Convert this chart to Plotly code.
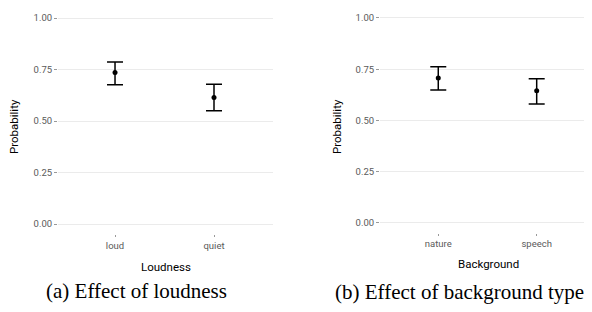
import plotly.graph_objects as go

# ---- data ----
loud_cats = ["loud", "quiet"]
loud_mean = [0.735, 0.614]
loud_upper = [0.787, 0.679]
loud_lower = [0.676, 0.550]

bg_cats = ["nature", "speech"]
bg_mean = [0.707, 0.645]
bg_upper = [0.762, 0.703]
bg_lower = [0.648, 0.580]

y_tickvals = [0, 0.25, 0.5, 0.75, 1.0]
y_ticktext = ["0.00", "0.25", "0.50", "0.75", "1.00"]

W, H = 592, 312
OFF = 8  # page body margin
FW, FH = W - OFF, H - OFF

def px(x):
    return (x - OFF) / FW

def py(y):
    return (H - y) / FH

fig = go.Figure()

def add_panel(cats, mean, upper, lower, xa, ya):
    fig.add_trace(go.Scatter(
        x=cats, y=mean, mode="markers",
        marker=dict(color="black", size=5),
        error_y=dict(type="data", symmetric=False,
                     array=[u - m for u, m in zip(upper, mean)],
                     arrayminus=[m - l for m, l in zip(mean, lower)],
                     color="black", thickness=1.5, width=8),
        xaxis=xa, yaxis=ya, showlegend=False, hoverinfo="skip"))

add_panel(loud_cats, loud_mean, loud_upper, loud_lower, "x", "y")
add_panel(bg_cats, bg_mean, bg_upper, bg_lower, "x2", "y2")

tickfont = dict(family="Roboto", size=9.5, color="#5a5a5a")
common_x = dict(type="category", showgrid=False, zeroline=False, showline=False,
                ticks="outside", ticklen=2, tickcolor="#999999", tickwidth=1,
                tickfont=tickfont)
common_y = dict(range=[-0.05, 1.03], tickvals=y_tickvals, ticktext=y_ticktext,
                showgrid=True, gridcolor="#EBEBEB", gridwidth=1, zeroline=False,
                showline=False, ticks="outside", ticklen=3, tickcolor="#999999",
                tickwidth=1, tickfont=tickfont)

ly0 = 224 + 0.05 * 206
ly1 = 18 - 0.03 * 206
ry0 = 222.7 + 0.05 * 204.7
ry1 = 18 - 0.03 * 204.7

fig.update_layout(
    width=FW, height=FH,
    margin=dict(l=0, r=0, t=0, b=0),
    paper_bgcolor="white", plot_bgcolor="white",
    xaxis=dict(domain=[px(58), px(273)], anchor="y", range=[-0.576, 1.596], **common_x),
    yaxis=dict(domain=[py(ly0), py(ly1)], anchor="x", **common_y),
    xaxis2=dict(domain=[px(380), 1.0], anchor="y2", range=[-0.592, 1.562], **common_x),
    yaxis2=dict(domain=[py(ry0), py(ry1)], anchor="x2", **common_y),
)

title_font = dict(family="Roboto", size=11.5, color="black")
cap_font = dict(family="Liberation Serif", size=21, color="black")

anns = [
    dict(text="Loudness", x=px(165.5), y=py(266.5), font=title_font),
    dict(text="Background", x=px(488), y=py(264.3), font=title_font),
    dict(text="Probability", x=px(14), y=py(127), font=title_font, textangle=-90),
    dict(text="Probability", x=px(337), y=py(127), font=title_font, textangle=-90),
    dict(text="(a) Effect of loudness", x=px(136.7), y=py(291), font=cap_font),
    dict(text="(b) Effect of background type", x=px(459), y=py(291.5), font=cap_font),
]
for a in anns:
    fig.add_annotation(xref="paper", yref="paper", xanchor="center", yanchor="middle",
                       showarrow=False, **a)

fig.write_html("out.html")
